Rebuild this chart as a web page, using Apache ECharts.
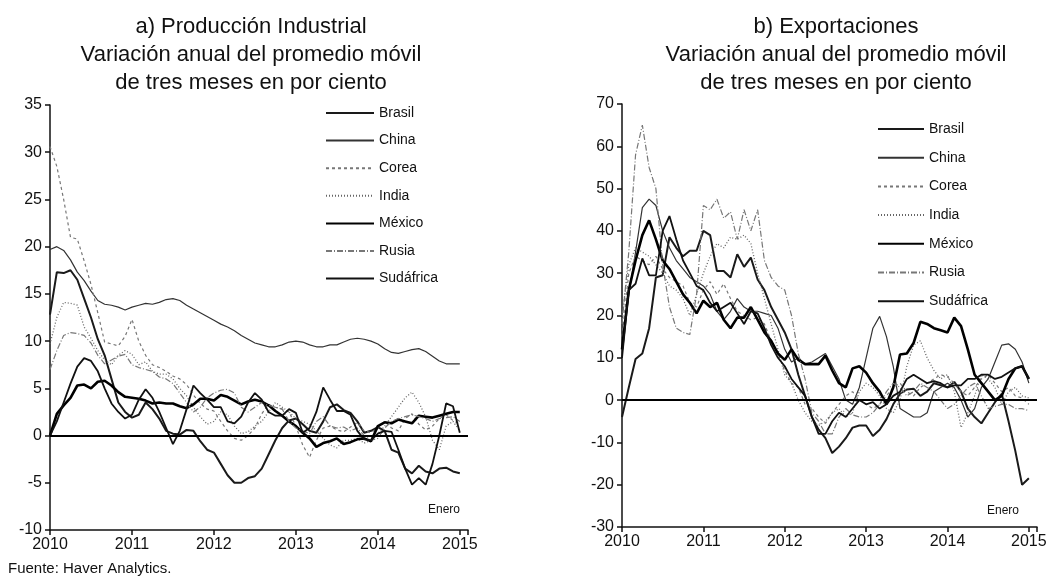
<!DOCTYPE html>
<html>
<head>
<meta charset="utf-8">
<script src="https://cdn.jsdelivr.net/npm/echarts@6/dist/echarts.min.js"></script>
<style>
  html, body { margin: 0; padding: 0; background: #fff; }
  #chart { width: 1055px; height: 578px; }
</style>
</head>
<body>
<div id="chart"></div>
<script>
// months from Jan 2010 (0) to Jan 2015 (60)
const yearLabels = ['2010', '2011', '2012', '2013', '2014', '2015']
const countries = ['Brasil', 'China', 'Corea', 'India', 'México', 'Rusia', 'Sudáfrica']

// a) Producción industrial
const brasilA = [12.8, 17.3, 17.2, 17.5, 16.5, 14.5, 12.5, 10.2, 8.5, 6.0,
  3.5, 2.5, 1.9, 2.2, 3.5, 2.8, 1.8, 0.5, 0.2, 0.1,
  0.6, 0.5, -0.6, -1.5, -1.8, -3.0, -4.2, -5.0, -5.0, -4.5,
  -4.3, -3.5, -2.0, -0.5, 0.8, 1.6, 1.8, 1.2, 0.5, 0.3,
  1.5, 3.0, 3.3, 2.7, 2.4, 1.5, 0.3, 0.5, 0.9, 0.5,
  -1.5, -1.8, -3.5, -4.0, -3.2, -3.8, -4.0, -3.5, -3.4, -3.8, -4.0]
const chinaA = [19.7, 20.0, 19.6, 18.6, 17.3, 16.4, 15.3, 14.3, 13.9, 13.8,
  13.6, 13.3, 13.6, 13.8, 14.0, 13.9, 14.1, 14.4, 14.5, 14.3,
  13.8, 13.4, 13.0, 12.6, 12.2, 11.8, 11.5, 11.1, 10.6, 10.2,
  9.8, 9.6, 9.4, 9.4, 9.6, 9.9, 10.0, 9.9, 9.6, 9.4,
  9.4, 9.6, 9.6, 9.9, 10.2, 10.3, 10.2, 10.0, 9.7, 9.2,
  8.8, 8.7, 8.9, 9.1, 9.2, 8.9, 8.4, 7.9, 7.6, 7.6, 7.6]
const coreaA = [30.6, 28.5, 25.0, 21.0, 20.8, 18.5, 16.0, 13.0, 9.9, 9.7,
  9.5, 10.5, 12.3, 10.0, 8.5, 7.5, 7.2, 6.8, 6.3, 6.0,
  5.4, 4.3, 3.4, 2.8, 2.6, 1.5, 0.5, -0.3, -0.5, 0.0,
  0.8, 2.3, 3.3, 3.0, 2.8, 2.5, 1.0, -1.0, -2.3, -0.5,
  0.8, 1.0, 0.6, 0.4, 0.9, 1.4, 0.5, 0.3, 0.8, 1.5,
  0.8, 0.5, 1.8, 2.3, 1.2, 0.6, 1.0, 1.8, 2.2, 1.6, 1.2]
const indiaA = [9.7, 12.5, 14.1, 14.0, 13.8, 11.5, 10.3, 9.0, 8.0, 7.5,
  8.5, 9.0, 8.6, 7.5, 7.8, 6.8, 6.5, 6.5, 6.0, 5.0,
  4.2, 3.0, 2.0, 1.2, 1.5, 2.5, 2.2, 1.0, 0.2, 0.4,
  1.0, 1.5, 2.5, 3.5, 3.0, 2.5, 1.8, 1.5, 1.2, 0.5,
  -0.3, -1.0, -1.3, -0.5, -0.5, -0.3, -0.8, -0.5, 0.2, 1.0,
  2.0, 3.0, 4.0, 4.6, 3.5, 2.0, -0.5, -1.5, 1.0, 1.5, 0.5]
const mexicoA = [0, 2.3, 3.2, 4.0, 5.3, 5.4, 5.0, 5.7, 5.8, 5.3,
  4.6, 4.1, 4.0, 3.9, 3.7, 3.4, 3.5, 3.4, 3.4, 3.1,
  2.9, 3.3, 3.9, 3.9, 3.7, 4.3, 4.1, 3.7, 3.3, 3.6,
  3.8, 3.6, 3.2, 2.6, 2.1, 1.5, 1.0, 0.3, -0.3, -1.2,
  -0.8, -0.6, -0.3, -0.9, -0.7, -0.4, -0.3, -0.6, 1.0, 1.4,
  1.3, 1.7, 1.5, 1.3, 2.1, 2.0, 1.9, 2.1, 2.3, 2.5, 2.5]
const rusiaA = [7.0, 9.0, 10.6, 10.9, 10.8, 10.6, 9.8, 8.5, 7.6, 8.0,
  8.4, 8.6, 7.5, 7.2, 7.0, 6.8, 6.2, 6.0, 5.5, 4.5,
  3.5, 2.5, 3.0, 4.0, 4.5, 4.8, 4.9, 4.5, 3.0, 2.5,
  3.0, 3.5, 3.2, 3.0, 2.8, 1.5, 0.8, 0.5, 0.2, 1.5,
  2.0, 1.0, 0.8, 0.9, 0.5, 0.8, 0.0, -0.5, -0.3, 0.8,
  1.5, 1.8, 2.0, 2.2, 2.0, 1.8, 1.5, 1.8, 1.9, 2.0, 1.5]
const sudafricaA = [0, 1.5, 3.5, 5.5, 7.3, 8.2, 7.9, 6.8, 5.0, 3.4,
  2.5, 1.8, 2.2, 3.8, 4.9, 4.0, 2.5, 0.8, -0.9, 0.5,
  2.8, 5.3, 4.5, 3.8, 3.0, 3.0, 1.5, 1.3, 2.0, 3.5,
  4.5, 3.8, 2.5, 2.1, 2.1, 2.8, 2.4, 0.3, 0.8, 2.5,
  5.1, 3.8, 2.6, 2.6, 2.2, 0.5, -0.4, -0.5, 0.2, 0.5,
  0.4, -1.5, -3.5, -5.2, -4.5, -5.2, -3.0, 0.0, 3.4, 3.1, 0.3]

// b) Exportaciones
const brasilB = [-4, 3, 9.7, 11, 17, 29, 29.5, 38.5, 36, 34,
  35.3, 35.3, 40, 39, 30.5, 30.5, 29, 34.5, 31.5, 33.7,
  28.5, 26, 22, 19, 16, 12, 6, 1, -4, -7,
  -9, -12.5, -11, -9, -6.5, -6, -6, -8.5, -7, -4.5,
  -1, 1.5, 2.5, 2.7, 1, 2, 4, 3.5, 3, 4.3,
  2, -2, -4, -5.5, -3, -0.5, 1.5, -5, -12, -20, -18.5]
const chinaB = [12, 25, 35, 45.5, 47.5, 46, 40, 36, 33, 31,
  29, 28, 27, 25, 21, 19, 21, 24, 22, 21,
  21, 20.5, 20, 17, 12, 9, 10, 8.5, 9, 10,
  11, 8, 5, 0, -1, 3, 10, 17, 19.8, 15,
  8, -2, -3, -4, -4, -3, 2, 3, 4, 3,
  0, -4, -2, 3, 5, 9, 13, 13.3, 12, 9, 4]
const coreaB = [15, 30, 34, 33, 32, 34, 31, 29, 28, 27,
  23, 22, 26, 28, 25, 27.5, 24, 21, 20, 19,
  19.5, 18, 14, 11, 7, 4, 3, -1, -2, -4,
  -5.5, -3, -1, 1, 2, 0, -1, -2, -1, 1,
  3, 4, 2, 1, 3, 4, 5, 6, 5.5, 4,
  2, 1, 3, 5, 6, 4, 2, 3, 1, 0.5, -1]
const indiaB = [20, 32, 36, 35, 34, 32, 30, 27, 26, 24,
  20, 25, 30, 34, 37, 36, 38.5, 38, 39, 37,
  30, 24, 18, 12, 6, 4, 0, -3, -5, -6,
  -5, -3, -2, -4, -3, 2, 4, 3, 1, -2,
  -3, 0, 8, 13, 14, 10, 7, 5, 6, 2,
  -6.5, -3, 1, 6, 5, 3, -1, 2, 3, 1, 0.5]
const mexicoB = [12, 26, 33, 39, 42.5, 38, 33, 31, 28, 25,
  23, 20.5, 23.5, 22, 23, 19, 17, 19.5, 19.5, 22,
  19, 16, 14, 11, 9.5, 12, 9.5, 8.5, 8.5, 8.5,
  10.5, 7, 4, 3, 7.5, 8, 6.5, 4, 2, -1,
  3, 10.8, 11, 13.5, 18.5, 18, 17, 16.5, 16, 19.5,
  17.5, 12, 6, 4, 2, 0, 1, 5, 7.5, 8, 5]
const rusiaB = [18, 35, 58, 65, 55, 50, 32, 22, 17, 16,
  15.5, 25, 46, 45, 47.5, 43, 44.5, 38, 45, 40,
  45, 33, 29, 27, 26, 20, 11, 5, -3, -5,
  -8, -8, -4, -2, -3.5, -4, -4, -3, -1, 2,
  4, 3, 1, 2, 4, 3, 2, 0, -2, -1,
  1, 3, 4, 1, -2, -1.5, -1, -1, -2, -2, -2.5]
const sudafricaB = [10, 26, 27.5, 33.5, 29.5, 29.5, 40, 43.5, 38, 33,
  30, 27, 26, 23, 21, 22, 23, 20.5, 18, 21,
  20.5, 17, 13, 10, 8, 5, 3, 1, -4, -8,
  -8, -5, -3, -4, -2, 0, -1, -0.5, -2, -1,
  1, 2, 5, 6, 5, 4, 4.5, 4, 3, 3.5,
  3.5, 5, 5, 6, 6, 5, 5.5, 6.5, 7.5, 8, 5]

const seriesA = [brasilA, chinaA, coreaA, indiaA, mexicoA, rusiaA, sudafricaA]
const seriesB = [brasilB, chinaB, coreaB, indiaB, mexicoB, rusiaB, sudafricaB]

const lineStyles = {
  'Brasil': { color: '#1a1a1a', width: 2, type: 'solid' },
  'China': { color: '#333', width: 1.2, type: 'solid' },
  'Corea': { color: '#777', width: 1.2, type: [3, 3] },
  'India': { color: '#666', width: 1.3, type: [1, 2] },
  'México': { color: '#000', width: 2.6, type: 'solid' },
  'Rusia': { color: '#777', width: 1.2, type: [6, 2, 1, 2] },
  'Sudáfrica': { color: '#111', width: 1.8, type: 'solid' },
}

const font = 'Liberation Sans, Arial, sans-serif'

function makeXAxis(gridIndex) {
  return {
    type: 'value',
    gridIndex,
    min: 0,
    max: 61.2,
    interval: 12,
    axisLine: { onZero: false, lineStyle: { color: '#111', width: 1.5 } },
    axisTick: { length: 5, lineStyle: { color: '#111', width: 1.5 } },
    axisLabel: {
      color: '#111', fontSize: 16, fontFamily: font, margin: 7,
      formatter: v => (v % 12 === 0 ? yearLabels[v / 12] : ''),
    },
    splitLine: { show: false },
  }
}

function makeYAxis(gridIndex, min, max, interval) {
  return {
    type: 'value',
    gridIndex,
    min, max, interval,
    axisLine: { show: true, lineStyle: { color: '#111', width: 1.5 } },
    axisTick: { show: true, length: 5, lineStyle: { color: '#111', width: 1.5 } },
    axisLabel: { color: '#111', fontSize: 16, fontFamily: font, margin: 8 },
    splitLine: { show: false },
  }
}

function makeSeries(values, idx, axisIndex) {
  const name = countries[idx]
  const s = {
    name,
    type: 'line',
    xAxisIndex: axisIndex,
    yAxisIndex: axisIndex,
    data: values.map((v, m) => [m, v]),
    symbol: 'none',
    lineStyle: lineStyles[name],
    itemStyle: { color: lineStyles[name].color },
    z: 3,
  }
  if (idx === 0) {
    s.markLine = {
      silent: true,
      symbol: 'none',
      label: { show: false },
      lineStyle: { color: '#000', width: 2.2, type: 'solid' },
      data: [{ yAxis: 0 }],
    }
  }
  return s
}

function makeLegend(left, top, gap, width) {
  return {
    orient: 'vertical',
    left, top,
    itemWidth: width,
    itemHeight: 14,
    itemGap: gap,
    data: countries,
    selectedMode: false,
    // only the line sample, no symbol dot
    itemStyle: { opacity: 0 },
    textStyle: { color: '#111', fontSize: 14, fontFamily: font },
  }
}

const chart = echarts.init(document.getElementById('chart'))

chart.setOption({
  animation: false,
  backgroundColor: '#fff',
  title: [
    {
      text: 'a) Producción Industrial\nVariación anual del promedio móvil\nde tres meses en por ciento',
      left: 246, top: 8, textAlign: 'center',
      textStyle: { fontSize: 22, fontWeight: 'normal', color: '#111', fontFamily: font, lineHeight: 28 },
    },
    {
      text: 'b) Exportaciones\nVariación anual del promedio móvil\nde tres meses en por ciento',
      left: 831, top: 8, textAlign: 'center',
      textStyle: { fontSize: 22, fontWeight: 'normal', color: '#111', fontFamily: font, lineHeight: 28 },
    },
  ],
  legend: [
    makeLegend(320, 101, 13.6, 48),
    makeLegend(872, 117, 14.7, 46),
  ],
  grid: [
    { left: 50, top: 105, width: 418, height: 425 },
    { left: 622, top: 104, width: 415, height: 423 },
  ],
  xAxis: [makeXAxis(0), makeXAxis(1)],
  yAxis: [makeYAxis(0, -10, 35, 5), makeYAxis(1, -30, 70, 10)],
  series: [
    ...seriesA.map((v, i) => makeSeries(v, i, 0)),
    ...seriesB.map((v, i) => makeSeries(v, i, 1)),
  ],
  graphic: [
    { type: 'text', left: 428, top: 504, style: { text: 'Enero', fontSize: 12, fontFamily: font, fill: '#111' } },
    { type: 'text', left: 987, top: 505, style: { text: 'Enero', fontSize: 12, fontFamily: font, fill: '#111' } },
    { type: 'text', left: 8, top: 561, style: { text: 'Fuente: Haver Analytics.', fontSize: 15, fontFamily: font, fill: '#111' } },
  ],
})
</script>
</body>
</html>
